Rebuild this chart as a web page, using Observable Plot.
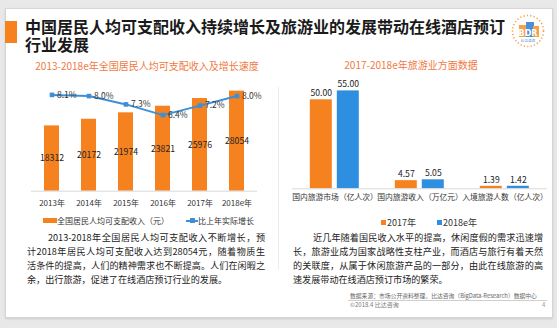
<!DOCTYPE html>
<html><head><meta charset="utf-8">
<script src="https://cdn.jsdelivr.net/npm/d3@7"></script>
<script src="https://cdn.jsdelivr.net/npm/@observablehq/plot@0.6"></script>
<style>
body{margin:0;width:557px;height:328px;background:#e8e8e8;font-family:"Noto Sans CJK SC","Noto Sans",sans-serif;overflow:hidden;position:relative;color:#222}
.abs{position:absolute;white-space:nowrap}
.panel{position:absolute;left:5px;top:8px;width:546px;height:308px;background:#fff;border:1px solid #d6d6d6;box-shadow:0 1px 2px rgba(0,0,0,0.12)}
.para{position:absolute;font-size:9.1px;line-height:14px;color:#222}
.para span{display:block;text-align:justify;text-align-last:justify;white-space:nowrap}
.para span.last{text-align-last:left}
.leg{position:absolute;white-space:nowrap;display:flex;align-items:center}
</style></head>
<body>
<div class="panel"></div>
<div class="abs" style="left:5px;top:21px;width:12px;height:22px;background:#f5821f"></div>
<div style="position:absolute;left:25px;top:16.5px;width:482px;white-space:normal;font-size:16px;line-height:18px;font-weight:bold;color:#1a1a1a">中国居民人均可支配收入持续增长及旅游业的发展带动在线酒店预订行业发展</div>
<svg class="abs" style="left:510px;top:13px" width="36" height="36" viewBox="0 0 36 36">
  <circle cx="18" cy="18" r="15.5" fill="none" stroke="#f5a04a" stroke-width="1.6" stroke-dasharray="1.2 2.2"/>
  <rect x="9" y="12" width="8" height="12" fill="#f5a04a"/>
  <rect x="16" y="9" width="8" height="15" fill="#4a90d9"/>
  <rect x="23" y="13" width="6" height="11" fill="#f5a04a"/>
  <text x="18" y="22.5" text-anchor="middle" font-size="8" font-weight="bold" fill="#fff" font-family="DejaVu Sans">BDR</text>
  <text x="18" y="29" text-anchor="middle" font-size="3.6" fill="#4a90d9">比达咨询</text>
</svg>
<div class="abs" style="left:278px;top:87px;width:1px;height:183px;background:#ececec"></div>

<div class="abs" style="left:147px;top:59px;transform:translateX(-50%);font-size:10px;line-height:14px;color:#ef7a43">2013-2018e年全国居民人均可支配收入及增长速度</div>
<div class="abs" style="left:411px;top:58px;transform:translateX(-50%);font-size:10px;line-height:14px;color:#ef7a43">2017-2018e年旅游业方面数据</div>

<div class="abs" id="c1" style="left:20px;top:72px"></div>
<div class="abs" id="c2" style="left:285px;top:72px"></div>

<div class="leg" style="left:43px;top:214px;height:13px;font-size:8px;color:#333">
  <span style="display:inline-block;width:14px;height:5px;background:#f5821f"></span><span>全国居民人均可支配收入（元）</span>
  <span style="display:inline-block;width:12px;height:2px;background:#3d8fd6;margin-left:17px;position:relative"><span style="position:absolute;left:4px;top:-1.5px;width:5px;height:5px;background:#3d8fd6"></span></span><span>比上年实际增长</span>
</div>
<div class="leg" style="left:381px;top:215.5px;height:13px;font-size:9px;color:#333">
  <span style="display:inline-block;width:5px;height:5px;background:#f5821f;margin-right:1px"></span><span>2017年</span>
  <span style="display:inline-block;width:5px;height:5px;background:#2e8fe0;margin-left:21px;margin-right:1px"></span><span>2018e年</span>
</div>

<div class="para" style="left:27px;top:230px;width:238px">
  <span style="text-indent:21px">2013-2018年全国居民人均可支配收入不断增长，预</span>
  <span>计2018年居民人均可支配收入达到28054元，随着物质生</span>
  <span>活条件的提高，人们的精神需求也不断提高。人们在闲暇之</span>
  <span class="last">余，出行旅游，促进了在线酒店预订行业的发展。</span>
</div>
<div class="para" style="left:293px;top:230px;width:250px">
  <span style="text-indent:20px">近几年随着国民收入水平的提高，休闲度假的需求迅速增</span>
  <span>长，旅游业成为国家战略性支柱产业，而酒店与旅行有着天然</span>
  <span>的关联度，从属于休闲旅游产品的一部分，由此在线旅游的高</span>
  <span class="last">速发展带动在线酒店预订市场的繁荣。</span>
</div>

<div class="abs" style="left:350px;top:291.5px;font-size:5.8px;line-height:8px;color:#666">数据来源：市场公开资料整理，比达咨询（BigData-Research）数据中心</div>
<div class="abs" style="left:348px;top:300px;width:199px;height:1px;background:#cfcfcf"></div>
<div class="abs" style="left:350px;top:301px;font-size:6px;line-height:7px;color:#777">©2018.4 比达咨询</div>
<div class="abs" style="left:542px;top:301px;font-size:6px;line-height:7px;color:#999">4</div>

<script>
// ---- data ----
const years = ["2013年","2014年","2015年","2016年","2017年","2018e年"];
const income = [18312, 20172, 21974, 23821, 25976, 28054];
const growth = [8.1, 8.0, 7.3, 6.4, 7.2, 8.0];

const tourismCategories = ["国内旅游市场（亿人次）","国内旅游收入（万亿元）","入境旅游人数（亿人次）"];
const tourismSeries = ["2017年","2018e年"];
const tourism2017 = [50.00, 4.57, 1.39];
const tourism2018 = [55.00, 5.05, 1.42];

const ORANGE = "#f5821f", BLUE = "#2e8fe0", LINEBLUE = "#3d8fd6";
const font = {fontFamily:"'Noto Sans CJK SC','Noto Sans',sans-serif", background:"transparent", color:"#333", overflow:"visible"};

// ---- left chart: income bars + growth line (secondary axis 0-9%) ----
const incomeData = years.map((y, i) => ({year: y, income: income[i], growth: growth[i]}));
const yMax = 30000, y2Max = 9;
const g2y = d => d.growth * yMax / y2Max;

const c1 = Plot.plot({
  width: 250, height: 140,
  marginTop: 11.7, marginBottom: 21.3, marginLeft: 11, marginRight: 13,
  style: font,
  x: {domain: years, paddingInner: 0.6, paddingOuter: 0.3},
  y: {domain: [0, yMax], axis: null},
  marks: [
    Plot.barY(incomeData, {x: "year", y: "income", fill: ORANGE}),
    Plot.ruleY([0], {stroke: "#d9d9d9"}),
    Plot.axisX({tickSize: 0, tickPadding: 9, fontSize: 8, label: null, fill: "#333"}),
    Plot.text(incomeData, {x: "year", y: d => d.income / 2, text: d => String(d.income), fill: "#222", fontSize: 8.7}),
    Plot.line(incomeData, {x: "year", y: g2y, stroke: LINEBLUE, strokeWidth: 2}),
    Plot.dot(incomeData, {x: "year", y: g2y, symbol: "square", r: 2.6, fill: LINEBLUE, stroke: "none"}),
    Plot.text(incomeData, {x: "year", y: g2y, text: d => d.growth.toFixed(1) + "%", textAnchor: "start", dx: 5, fill: "#333", fontSize: 8.5})
  ]
});
document.getElementById("c1").appendChild(c1);

// ---- right chart: grouped bars ----
const tourismData = tourismCategories.flatMap((c, i) => [
  {cat: c, series: tourismSeries[0], value: tourism2017[i]},
  {cat: c, series: tourismSeries[1], value: tourism2018[i]}
]);

const c2 = Plot.plot({
  width: 267, height: 140,
  marginTop: 9.5, marginBottom: 23.7, marginLeft: 7.2, marginRight: 4.8,
  style: font,
  fx: {domain: tourismCategories, padding: 0},
  x: {domain: tourismSeries, paddingInner: 0.2, paddingOuter: 0.618, axis: null},
  y: {domain: [0, 60], axis: null},
  color: {domain: tourismSeries, range: [ORANGE, BLUE]},
  marks: [
    Plot.barY(tourismData, {fx: "cat", x: "series", y: "value", fill: "series"}),
    Plot.ruleY([0], {stroke: "#d9d9d9"}),
    Plot.axisFx({anchor: "bottom", tickSize: 0, tickPadding: 6, fontSize: 7.8, label: null, fill: "#333"}),
    Plot.text(tourismData, {fx: "cat", x: "series", y: "value", text: d => d.value.toFixed(2), dy: -6.5, fill: "#222", fontSize: 8.6})
  ]
});
document.getElementById("c2").appendChild(c2);
</script>
</body></html>
